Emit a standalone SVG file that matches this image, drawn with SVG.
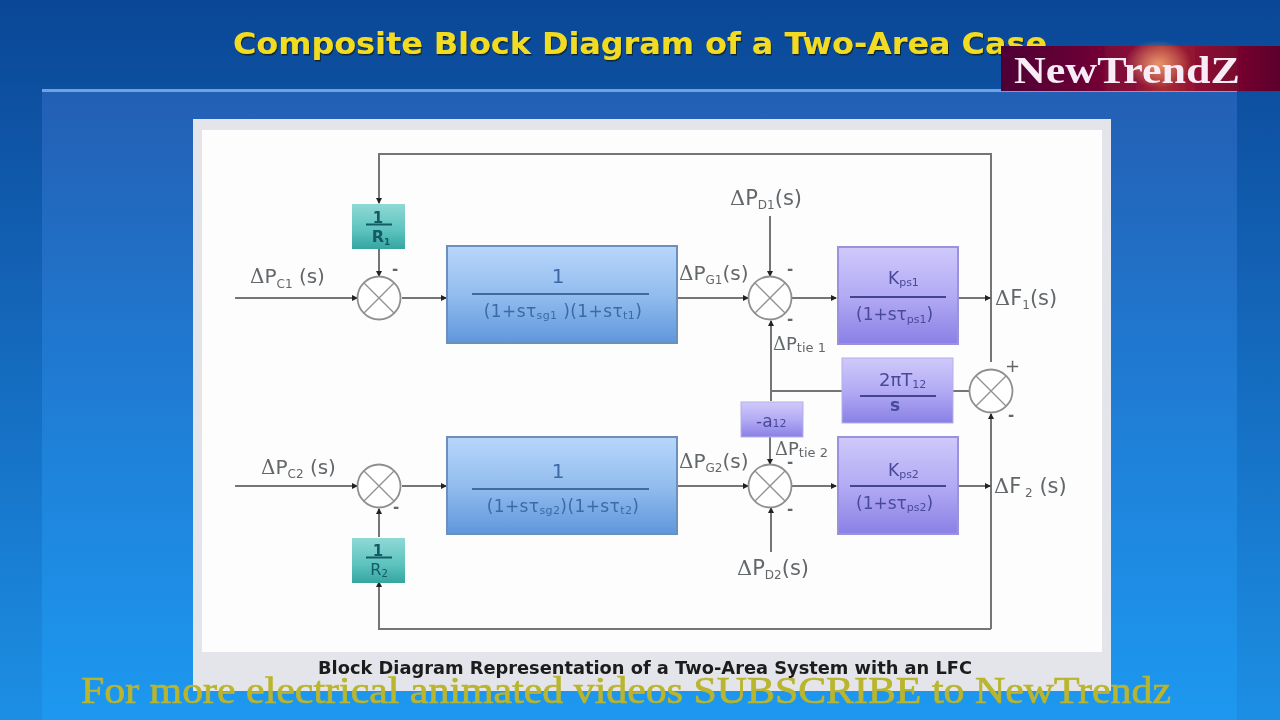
<svg xmlns="http://www.w3.org/2000/svg" width="1280" height="720" viewBox="0 0 1280 720">
<style>
.w{fill:none;stroke:#747474;stroke-width:2}
.s{fill:#fff;stroke:#8f8f8f;stroke-width:1.8}
.x{stroke:#929292;stroke-width:1.4}
.t{font-family:"DejaVu Sans",sans-serif;fill:#62676b}
.d{font-family:"DejaVu Serif",serif}
.b{font-family:"DejaVu Sans",sans-serif;fill:#3c6aa6}
.p{font-family:"DejaVu Sans",sans-serif;fill:#4a4a9a}
.g{font-family:"DejaVu Sans",sans-serif;fill:#125a66;text-anchor:middle}
.bar{stroke-width:2;fill:none}
</style>
<defs>
<linearGradient id="bg" x1="0" y1="0" x2="0" y2="1"><stop offset="0" stop-color="#0a4796"/><stop offset=".35" stop-color="#125fb2"/><stop offset="1" stop-color="#1c8fe4"/></linearGradient>
<linearGradient id="panel" x1="0" y1="0" x2="0" y2="1"><stop offset="0" stop-color="#235fb4"/><stop offset=".55" stop-color="#1f80d8"/><stop offset="1" stop-color="#1d98f0"/></linearGradient>
<linearGradient id="blue" x1="0" y1="0" x2="0" y2="1"><stop offset="0" stop-color="#b8d6fb"/><stop offset=".5" stop-color="#93bdee"/><stop offset="1" stop-color="#5f97dc"/></linearGradient>
<linearGradient id="pur" x1="0" y1="0" x2="0" y2="1"><stop offset="0" stop-color="#cfc9fb"/><stop offset=".5" stop-color="#b3abf4"/><stop offset="1" stop-color="#8a80e6"/></linearGradient>
<linearGradient id="teal" x1="0" y1="0" x2="0" y2="1"><stop offset="0" stop-color="#8fd9d6"/><stop offset=".6" stop-color="#5cc2bd"/><stop offset="1" stop-color="#35a5a0"/></linearGradient>
<linearGradient id="badge" x1="0" y1="0" x2="1" y2="0"><stop offset="0" stop-color="#4e0036"/><stop offset=".3" stop-color="#6a0034"/><stop offset=".48" stop-color="#8a1038"/><stop offset=".58" stop-color="#a82c34"/><stop offset=".72" stop-color="#8c0c30"/><stop offset="1" stop-color="#5c002e"/></linearGradient>
<radialGradient id="glow"><stop offset="0" stop-color="#f0a070" stop-opacity=".9"/><stop offset="1" stop-color="#f0a070" stop-opacity="0"/></radialGradient>
<filter id="soft" x="-2%" y="-2%" width="104%" height="104%"><feGaussianBlur stdDeviation=".45"/></filter>
<filter id="shadow" x="-2%" y="-20%" width="104%" height="140%"><feDropShadow dx="1" dy="1.500" stdDeviation=".6" flood-color="#10202c" flood-opacity=".95"/></filter>
<marker id="a" markerWidth="6" markerHeight="6" refX="5" refY="3" orient="auto" markerUnits="userSpaceOnUse"><path d="M0 0L6 3L0 6Z" fill="#222"/></marker>
</defs>
<rect width="1280" height="720" fill="url(#bg)"/>
<rect x="42" y="90" width="1195" height="630" fill="url(#panel)"/>
<rect x="42" y="89" width="1195" height="3" fill="#6fa3e0"/>
<rect x="193" y="119" width="918" height="572" fill="#e3e5ea"/>
<rect x="202" y="130" width="900" height="522" fill="#fdfdfd"/>
<text x="233" y="54" textLength="814" lengthAdjust="spacingAndGlyphs" font-family="DejaVu Sans,sans-serif" font-weight="700" font-size="31" fill="#f2dc22" filter="url(#shadow)">Composite Block Diagram of a Two-Area Case</text>

<g filter="url(#soft)">
<g id="connectors">
<path class="w" d="M991 362V154H379V203" marker-end="url(#a)"/>
<path class="w" d="M379 249V276" marker-end="url(#a)"/>
<path class="w" d="M235 298H357" marker-end="url(#a)"/>
<path class="w" d="M402 298H446" marker-end="url(#a)"/>
<path class="w" d="M677 298H748" marker-end="url(#a)"/>
<path class="w" d="M792 298H836" marker-end="url(#a)"/>
<path class="w" d="M958 298H990" marker-end="url(#a)"/>
<path class="w" d="M770 216V276" marker-end="url(#a)"/>
<path class="w" d="M771 401V321" marker-end="url(#a)"/>
<path class="w" d="M771 391H842"/>
<path class="w" d="M953 391H969"/>
<path class="w" d="M991 629V414" marker-end="url(#a)"/>
<path class="w" d="M235 486H357" marker-end="url(#a)"/>
<path class="w" d="M402 486H446" marker-end="url(#a)"/>
<path class="w" d="M677 486H748" marker-end="url(#a)"/>
<path class="w" d="M792 486H836" marker-end="url(#a)"/>
<path class="w" d="M958 486H990" marker-end="url(#a)"/>
<path class="w" d="M770 437V464" marker-end="url(#a)"/>
<path class="w" d="M771 552V508" marker-end="url(#a)"/>
<path class="w" d="M379 537V509" marker-end="url(#a)"/>
<path class="w" d="M991 629H379V582" marker-end="url(#a)"/>
</g>

<g id="r1"><rect x="352" y="204" width="53" height="45" fill="url(#teal)"/><text class="g" x="378" y="223" font-size="15" font-weight="700">1</text><path class="bar" stroke="#125a66" d="M366 224.500H392"/><text class="g" x="381" y="242" font-size="16" font-weight="700">R<tspan font-size="9" dy="3">1</tspan></text></g>
<g id="r2"><rect x="352" y="538" width="53" height="45" fill="url(#teal)"/><text class="g" x="378" y="556" font-size="15" font-weight="700">1</text><path class="bar" stroke="#125a66" d="M366 557.500H392"/><text class="g" x="379" y="575" font-size="16">R<tspan font-size="10" dy="2">2</tspan></text></g>

<g id="s1"><circle class="s" cx="379" cy="298" r="21.500"/><path class="x" d="M364 283L394 313M394 283L364 313"/></g>
<g id="s2"><circle class="s" cx="379" cy="486" r="21.500"/><path class="x" d="M364 471L394 501M394 471L364 501"/></g>
<g id="s3"><circle class="s" cx="770" cy="298" r="21.500"/><path class="x" d="M755 283L785 313M785 283L755 313"/></g>
<g id="s4"><circle class="s" cx="770" cy="486" r="21.500"/><path class="x" d="M755 471L785 501M785 471L755 501"/></g>
<g id="s5"><circle class="s" cx="991" cy="391" r="21.500"/><path class="x" d="M976 376L1006 406M1006 376L976 406"/></g>

<g id="g1"><rect x="447" y="246" width="230" height="97" fill="url(#blue)" stroke="#6d8fbc" stroke-width="2"/><text class="b" x="558" y="283" font-size="20" text-anchor="middle">1</text><path class="bar" stroke="#3f6aa3" d="M472 294H649"/><text class="b" x="563" y="317" font-size="17" letter-spacing=".4" text-anchor="middle">(1+sτ<tspan font-size="11" dy="2">sg1</tspan><tspan dy="-2"> )(1+sτ</tspan><tspan font-size="11" dy="2">t1</tspan><tspan dy="-2">)</tspan></text></g>
<g id="g2"><rect x="447" y="437" width="230" height="97" fill="url(#blue)" stroke="#6d8fbc" stroke-width="2"/><text class="b" x="558" y="478" font-size="20" text-anchor="middle">1</text><path class="bar" stroke="#3f6aa3" d="M472 489H649"/><text class="b" x="563" y="512" font-size="17" letter-spacing=".4" text-anchor="middle">(1+sτ<tspan font-size="11" dy="2">sg2</tspan><tspan dy="-2">)(1+sτ</tspan><tspan font-size="11" dy="2">t2</tspan><tspan dy="-2">)</tspan></text></g>
<g id="k1"><rect x="838" y="247" width="120" height="97" fill="url(#pur)" stroke="#9a92dc" stroke-width="2"/><text class="p" x="888" y="284" font-size="17">K<tspan font-size="11" dy="2">ps1</tspan></text><path class="bar" stroke="#44448f" d="M850 297H946"/><text class="p" x="856" y="320" font-size="17">(1+sτ<tspan font-size="11" dy="3">ps1</tspan><tspan dy="-3">)</tspan></text></g>
<g id="k2"><rect x="838" y="437" width="120" height="97" fill="url(#pur)" stroke="#9a92dc" stroke-width="2"/><text class="p" x="888" y="476" font-size="17">K<tspan font-size="11" dy="2">ps2</tspan></text><path class="bar" stroke="#44448f" d="M850 486H946"/><text class="p" x="856" y="509" font-size="17">(1+sτ<tspan font-size="11" dy="2">ps2</tspan><tspan dy="-2">)</tspan></text></g>
<g id="t12"><rect x="842" y="358" width="111" height="65" fill="url(#pur)" stroke="#b5aeea"/><text class="p" x="879" y="386" font-size="18">2πT<tspan font-size="11" dy="2">12</tspan></text><path class="bar" stroke="#44448f" d="M860 396H936"/><text class="p" x="895" y="411" font-size="17" font-weight="700" text-anchor="middle">s</text></g>
<g id="a12"><rect x="741" y="402" width="62" height="35" fill="url(#pur)" stroke="#b5aeea"/><text class="p" x="756" y="427" font-size="17">-a<tspan font-size="11">12</tspan></text></g>

<g id="labels">
<text class="t" x="250" y="283" font-size="20"><tspan class="d">Δ</tspan>P<tspan font-size="12" dy="5">C1</tspan><tspan dy="-5"> (s)</tspan></text>
<text class="t" x="261" y="474" font-size="20"><tspan class="d">Δ</tspan>P<tspan font-size="12" dy="4">C2</tspan><tspan dy="-4"> (s)</tspan></text>
<text class="t" x="679" y="280" font-size="20"><tspan class="d">Δ</tspan>P<tspan font-size="12" dy="4">G1</tspan><tspan dy="-4">(s)</tspan></text>
<text class="t" x="679" y="468" font-size="20"><tspan class="d">Δ</tspan>P<tspan font-size="12" dy="4">G2</tspan><tspan dy="-4">(s)</tspan></text>
<text class="t" x="730" y="205" font-size="21"><tspan class="d">Δ</tspan>P<tspan font-size="12" dy="4">D1</tspan><tspan dy="-4">(s)</tspan></text>
<text class="t" x="737" y="575" font-size="21"><tspan class="d">Δ</tspan>P<tspan font-size="12" dy="4">D2</tspan><tspan dy="-4">(s)</tspan></text>
<text class="t" x="995" y="305" font-size="21"><tspan class="d">Δ</tspan>F<tspan font-size="12" dy="4">1</tspan><tspan dy="-4">(s)</tspan></text>
<text class="t" x="994" y="493" font-size="21"><tspan class="d">Δ</tspan>F<tspan font-size="12" dy="4"> 2</tspan><tspan dy="-4"> (s)</tspan></text>
<text class="t" x="773" y="350" font-size="18"><tspan class="d">Δ</tspan>P<tspan font-size="13" dy="2">tie 1</tspan></text>
<text class="t" x="775" y="455" font-size="18"><tspan class="d">Δ</tspan>P<tspan font-size="13" dy="2">tie 2</tspan></text>
<text class="t" x="392" y="274" font-size="15" font-weight="700">-</text>
<text class="t" x="393" y="512" font-size="15" font-weight="700">-</text>
<text class="t" x="787" y="274" font-size="15" font-weight="700">-</text>
<text class="t" x="787" y="324" font-size="15" font-weight="700">-</text>
<text class="t" x="787" y="467" font-size="15" font-weight="700">-</text>
<text class="t" x="787" y="514" font-size="15" font-weight="700">-</text>
<text class="t" x="1005" y="372" font-size="18">+</text>
<text class="t" x="1008" y="420" font-size="15" font-weight="700">-</text>
</g>
<text x="318" y="674" textLength="654" lengthAdjust="spacingAndGlyphs" font-family="DejaVu Sans,sans-serif" font-weight="700" font-size="17" fill="#1c1c1c">Block Diagram Representation of a Two-Area System with an LFC</text>
</g>
<g filter="url(#soft)">
<rect x="1001" y="46" width="279" height="45" fill="url(#badge)"/>
<ellipse cx="1158" cy="64" rx="34" ry="24" fill="url(#glow)"/>
<text x="1014" y="83" textLength="226" lengthAdjust="spacingAndGlyphs" font-family="Liberation Serif,serif" font-weight="700" font-size="38" fill="#f8ecf6">NewTrendZ</text>
<text x="81" y="703" textLength="1090" lengthAdjust="spacingAndGlyphs" font-family="Liberation Serif,serif" font-size="37" fill="#b9b52e" stroke="#b9b52e" stroke-width=".7">For more electrical animated videos SUBSCRIBE to NewTrendz</text>
</g>
</svg>
